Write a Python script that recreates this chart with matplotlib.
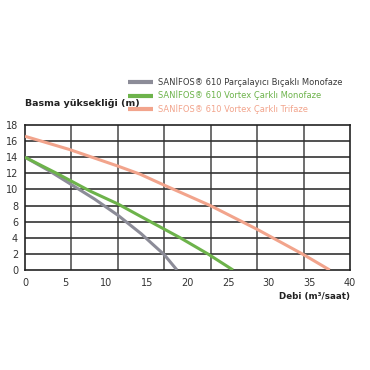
import matplotlib
matplotlib.use("Agg")
import matplotlib.pyplot as plt

plt.rcParams['font.family'] = ['DejaVu Sans']

labels = ["SANİFOS® 610 Parçalayıcı Bıçaklı Monofaze",
          "SANİFOS® 610 Vortex Çarklı Monofaze",
          "SANİFOS® 610 Vortex Çarklı Trifaze"]
colors = ["#8c8c98", "#6db34b", "#f2a48c"]
text_colors = ["#3a3a3a", "#6db34b", "#f2a48c"]

gray_x = [0, 3.0, 5.71, 8.57, 11.43, 14.3, 15.6, 17.14, 18.7]
gray_y = [14, 12.3, 10.6, 8.8, 6.8, 4.5, 3.3, 1.9, 0]
green_x = [0, 4.0, 8.0, 11.43, 14.15, 19.1, 22.5, 25.6]
green_y = [14, 11.95, 9.8, 8.2, 6.7, 4.0, 2.0, 0]
salmon_x = [0, 5.5, 11.43, 14.15, 17.2, 22.8, 28.57, 34.3, 37.5]
salmon_y = [16.6, 14.95, 12.9, 11.9, 10.5, 8.0, 5.05, 1.9, 0]

x_ticks = [0, 5, 10, 15, 20, 25, 30, 35, 40]
y_ticks = [0, 2, 4, 6, 8, 10, 12, 14, 16, 18]
n_cols = 7

fig = plt.figure(figsize=(3.7, 3.7), dpi=100)
ax = fig.add_axes([25/370, 1-270/370, 325/370, 145/370])

series = [(gray_x, gray_y), (green_x, green_y), (salmon_x, salmon_y)]
handles = []
for (xs, ys), c, lab in zip(series, colors, labels):
    h, = ax.plot(xs, ys, color=c, lw=2.2, solid_capstyle='butt',
                 solid_joinstyle='round', label=lab, zorder=3)
    handles.append(h)

ax.set_xlim(0, 40)
ax.set_ylim(0, 18)
ax.set_xticks(x_ticks)
ax.set_yticks(y_ticks)
ax.grid(False)
for i in range(1, n_cols):
    ax.axvline(40 / n_cols * i, color="#555555", lw=1.2, zorder=1)
for v in y_ticks[1:-1]:
    ax.axhline(v, color="#333333", lw=1.2, zorder=1)
ax.tick_params(which='both', length=0, labelsize=7, colors="#333333")
ax.tick_params(axis='x', pad=6)
ax.tick_params(axis='y', pad=5)
for s in ax.spines.values():
    s.set_color("#222222")
    s.set_linewidth(1.2)

fig.text(25/370, 1-104/370, "Basma yüksekliği (m)", fontsize=6.8, fontweight='bold',
         color="#222222", ha='left', va='center')
fig.text(350/370, 1-296/370, "Debi (m³/saat)", fontsize=6.3, fontweight='bold',
         color="#222222", ha='right', va='center')

leg = fig.legend(handles=handles, loc='upper left', bbox_to_anchor=(128/370, 1-77/370),
                 frameon=False, fontsize=6.0, handlelength=3.0, handletextpad=0.6,
                 labelspacing=0.45, borderpad=0, borderaxespad=0)
for t, c in zip(leg.get_texts(), text_colors):
    t.set_color(c)
for l in leg.get_lines():
    l.set_linewidth(3)

fig.savefig("out.png", dpi=100, facecolor='white')
